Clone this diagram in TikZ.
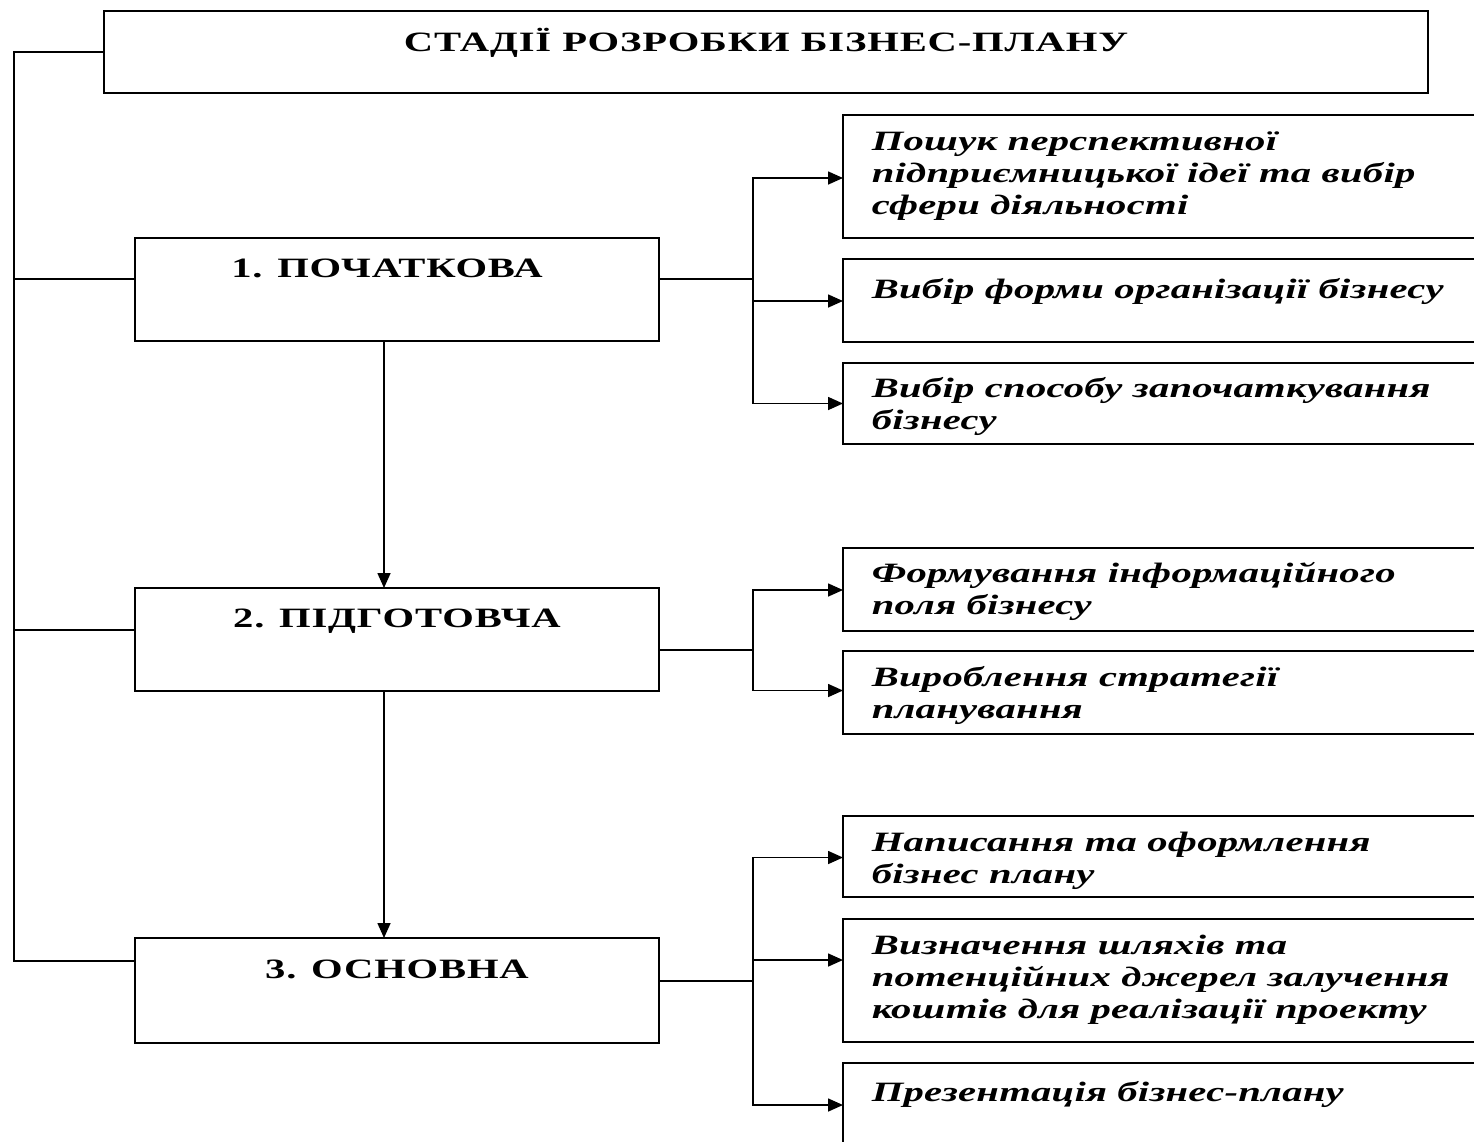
\documentclass[tikz,border=0pt]{standalone}
\usepackage{fontspec}
\setmainfont{Liberation Serif}
\newfontfamily\hdfont{Liberation Serif}[FakeStretch=1.45,LetterSpace=3]
\newfontfamily\itfont{Liberation Serif}[FakeStretch=1.45,LetterSpace=1]
\usetikzlibrary{arrows.meta}
\begin{document}
\begin{tikzpicture}[x=1pt,y=-1pt,line width=1.6pt,
  box/.style={draw,inner sep=0pt,outer sep=0pt,anchor=north west},
  htxt/.style={inner sep=0pt,font=\fontsize{28}{32}\selectfont\hdfont\bfseries},
  itxt/.style={inner sep=0pt,font=\fontsize{28}{32}\selectfont\itfont\bfseries\itshape},
  arr/.style={-{Triangle[length=15pt,width=13pt]}}]
\clip (0,0) rectangle (1474,1141);
\fill[white] (0,0) rectangle (1474,1141);
% main boxes
\node[box,minimum width=1324pt,minimum height=82pt] (title) at (104,11) {};
\node[box,minimum width=524pt,minimum height=103pt] (b1) at (135,238) {};
\node[box,minimum width=524pt,minimum height=103pt] (b2) at (135,588) {};
\node[box,minimum width=524pt,minimum height=105pt] (b3) at (135,938) {};
\node[htxt,anchor=base] (titlet) at ([yshift=-40pt]title.north) {СТАДІЇ РОЗРОБКИ БІЗНЕС-ПЛАНУ};
\node[htxt,anchor=base] (b1t) at ([xshift=-10pt,yshift=-39pt]b1.north) {1. ПОЧАТКОВА};
\node[htxt,anchor=base] (b2t) at ([yshift=-39pt]b2.north) {2. ПІДГОТОВЧА};
\node[htxt,anchor=base] (b3t) at ([yshift=-40pt]b3.north) {3. ОСНОВНА};
% right boxes
\node[box,minimum width=660pt,minimum height=123pt] (r1) at (843,115) {};
\node[box,minimum width=660pt,minimum height=83pt] (r2) at (843,259) {};
\node[box,minimum width=660pt,minimum height=81pt] (r3) at (843,363) {};
\node[box,minimum width=660pt,minimum height=83pt] (r4) at (843,548) {};
\node[box,minimum width=660pt,minimum height=83pt] (r5) at (843,651) {};
\node[box,minimum width=660pt,minimum height=81pt] (r6) at (843,816) {};
\node[box,minimum width=660pt,minimum height=123pt] (r7) at (843,919) {};
\node[box,minimum width=660pt,minimum height=100pt] (r8) at (843,1063) {};
\node[itxt,anchor=base west] (r1t) at ([xshift=28pt,yshift=-35pt]r1.north west) {\begin{tabular}[t]{@{}l@{}}Пошук перспективної\\підприємницької ідеї та вибір\\сфери діяльності\end{tabular}};
\node[itxt,anchor=base west] (r2t) at ([xshift=28pt,yshift=-39pt]r2.north west) {Вибір форми організації бізнесу};
\node[itxt,anchor=base west] (r3t) at ([xshift=28pt,yshift=-34pt]r3.north west) {\begin{tabular}[t]{@{}l@{}}Вибір способу започаткування\\бізнесу\end{tabular}};
\node[itxt,anchor=base west] (r4t) at ([xshift=28pt,yshift=-34pt]r4.north west) {\begin{tabular}[t]{@{}l@{}}Формування інформаційного\\поля бізнесу\end{tabular}};
\node[itxt,anchor=base west] (r5t) at ([xshift=28pt,yshift=-35pt]r5.north west) {\begin{tabular}[t]{@{}l@{}}Вироблення стратегії\\планування\end{tabular}};
\node[itxt,anchor=base west] (r6t) at ([xshift=28pt,yshift=-35pt]r6.north west) {\begin{tabular}[t]{@{}l@{}}Написання та оформлення\\бізнес плану\end{tabular}};
\node[itxt,anchor=base west] (r7t) at ([xshift=28pt,yshift=-35pt]r7.north west) {\begin{tabular}[t]{@{}l@{}}Визначення шляхів та\\потенційних джерел залучення\\коштів для реалізації проекту\end{tabular}};
\node[itxt,anchor=base west] (r8t) at ([xshift=28pt,yshift=-38pt]r8.north west) {Презентація бізнес-плану};
% left bus
\coordinate (bus) at (14,0);
\coordinate (l3) at ([yshift=29.5pt]b3.west);
\draw (title.west) -- (title.west -| bus) -- (bus |- l3) -- (l3);
\draw ([yshift=10.5pt]b1.west) -- ([yshift=10.5pt]b1.west -| bus);
\draw ([yshift=9.5pt]b2.west) -- ([yshift=9.5pt]b2.west -| bus);
% vertical arrows
\draw[arr] ([xshift=-13pt]b1.south) -- ([xshift=-13pt]b2.north);
\draw[arr] ([xshift=-13pt]b2.south) -- ([xshift=-13pt]b3.north);
% right branches
\coordinate (j1) at (753,279);
\coordinate (j2) at (753,650);
\coordinate (j3) at (753,981);
\draw ([yshift=10.5pt]b1.east) -- (j1);
\draw ([yshift=-10.5pt]b2.east) -- (j2);
\draw ([yshift=9.5pt]b3.east) -- (j3);
\draw[arr] (j1) |- ([yshift=-1.5pt]r1.west);
\draw[arr] (j1) |- ([yshift=-0.5pt]r2.west);
\draw[arr] (j1) |- (r3.west);
\draw[arr] (j2) |- ([yshift=-0.5pt]r4.west);
\draw[arr] (j2) |- ([yshift=2pt]r5.west);
\draw[arr] (j3) |- ([yshift=-1pt]r6.west);
\draw[arr] (j3) |- ([yshift=20.5pt]r7.west);
\draw[arr] (j3) |- ([yshift=8pt]r8.west);
\end{tikzpicture}
\end{document}
